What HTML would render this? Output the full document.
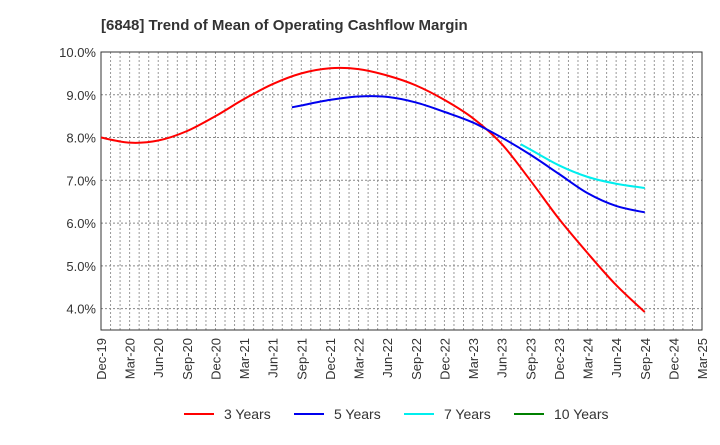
<!DOCTYPE html>
<html><head><meta charset="utf-8"><style>
body{margin:0;background:#fff;font-family:"Liberation Sans",Arial,sans-serif}
svg text{font-family:"Liberation Sans",Arial,sans-serif}
</style></head><body>
<svg id="chart" width="720" height="440">
<text x="101" y="30" font-size="15" font-weight="bold" fill="#333">[6848]  Trend of Mean of Operating Cashflow Margin</text>
<g id="grid"></g><g id="axes"></g><g id="series"></g><g id="legend"></g>
</svg>
<script>
const xLabels=["Dec-19","Mar-20","Jun-20","Sep-20","Dec-20","Mar-21","Jun-21","Sep-21","Dec-21","Mar-22","Jun-22","Sep-22","Dec-22","Mar-23","Jun-23","Sep-23","Dec-23","Mar-24","Jun-24","Sep-24","Dec-24","Mar-25"];
const yTicks=[4,5,6,7,8,9,10];
const y3=[8.0,7.88,7.93,8.15,8.5,8.9,9.25,9.5,9.62,9.6,9.45,9.22,8.88,8.45,7.85,7.0,6.1,5.3,4.55,3.92];
const y5=[8.75,8.88,8.96,8.95,8.82,8.6,8.35,8.0,7.6,7.15,6.7,6.4,6.25];
const y7=[7.72,7.35,7.08,6.92,6.82];
const y10=[];
const L=101,R=702,T=52,B=330,yMin=3.5,yMax=10;
const xs=i=>L+(R-L)*i/(xLabels.length-1);
const ys=v=>B-(B-T)*(v-yMin)/(yMax-yMin);
const NS="http://www.w3.org/2000/svg";
function mk(tag,attrs,parent){const e=document.createElementNS(NS,tag);for(const k in attrs)e.setAttribute(k,attrs[k]);parent.appendChild(e);return e;}
const grid=document.getElementById('grid'),axes=document.getElementById('axes'),ser=document.getElementById('series'),leg=document.getElementById('legend');
for(let m=1;m<(xLabels.length-1)*3;m++){const x=L+(R-L)*m/((xLabels.length-1)*3);
const g=mk('line',{x1:x,x2:x,y1:T,y2:B,stroke:'#999','stroke-dasharray':'2,2','stroke-width':1},grid);

}
yTicks.forEach(v=>{const y=ys(v);
const g=mk('line',{x1:L,x2:R,y1:y,y2:y,stroke:'#888','stroke-dasharray':'2,2','stroke-width':1},grid);


const t=mk('text',{x:L-5,y:y+5,'text-anchor':'end','font-size':13,fill:'#333'},axes);t.textContent=v.toFixed(1)+'%';

});
const fr=mk('rect',{x:L,y:T,width:R-L,height:B-T,fill:'none',stroke:'#333','stroke-width':1},axes);


xLabels.forEach((s,i)=>{const x=xs(i);
const t=mk('text',{transform:`translate(${x+5},${338}) rotate(-90)`,'text-anchor':'end','font-size':13,fill:'#333'},axes);t.textContent=s;

});
function path(vals,start){const p=vals.map((v,i)=>[xs(start+i),ys(v)]);if(p.length<2)return '';
let d=`M${p[0][0]},${p[0][1]}`;for(let i=0;i<p.length-1;i++){const p0=p[i-1]||p[i],p1=p[i],p2=p[i+1],p3=p[i+2]||p2;
d+=` C${p1[0]+(p2[0]-p0[0])/6},${p1[1]+(p2[1]-p0[1])/6} ${p2[0]-(p3[0]-p1[0])/6},${p2[1]-(p3[1]-p1[1])/6} ${p2[0]},${p2[1]}`;}return d;}
const series=[[y3,0,'#ff0000','3 Years','series-3-years'],[y5,6.67,'#0000ee','5 Years','series-5-years'],[y7,14.67,'#00eeee','7 Years','series-7-years'],[y10,19,'#008000','10 Years','series-10-years']];
series.forEach(([v,s,c,n,dn],k)=>{
let vv=v, ss=s;
if(s%1!==0&&v.length>1){ss=Math.ceil(s);}
let d=path(vv,ss);
if(s%1!==0&&v.length>1){const x0=xs(s),y0=ys(v[0]-(v[1]-v[0])/3);d=`M${x0},${y0} L`+d.slice(1);}
if(d){const p=mk('path',{d,fill:'none',stroke:c,'stroke-width':2},ser);

}
const lx=[184,294,404,514][k];
const ln=mk('line',{x1:lx,x2:lx+30,y1:414,y2:414,stroke:c,'stroke-width':2},leg);


const t=mk('text',{x:lx+40,y:419,'font-size':14,fill:'#333'},leg);t.textContent=n;

});
</script>
</body></html>
